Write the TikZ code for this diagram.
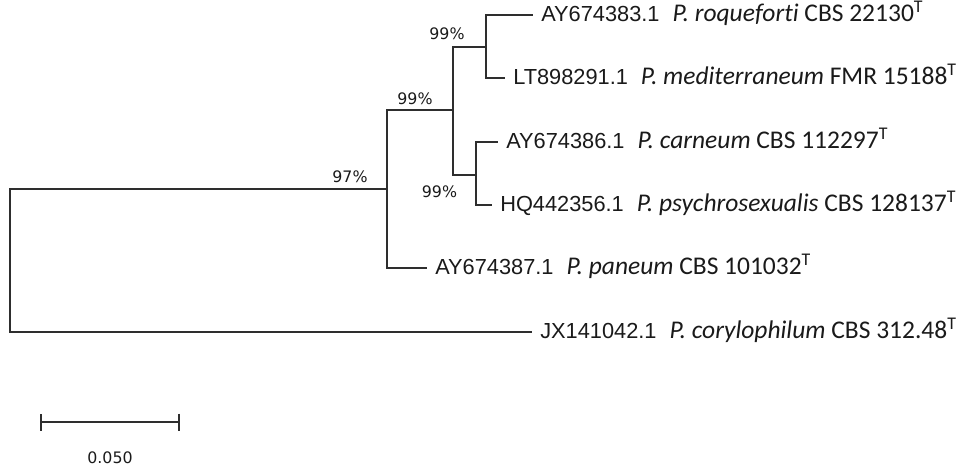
\documentclass[tikz,border=0pt]{standalone}
\usepackage{fontspec}
\usepackage{tikz}
\usetikzlibrary{arrows.meta}
\newfontfamily\accfont{Liberation Sans}
\newfontfamily\spfont[Ligatures={NoCommon,NoRare},Contextuals=NoAlternate]{Carlito}
\newfontfamily\bootfont{DejaVu Sans}
\definecolor{treeline}{HTML}{2E2E2E}
\definecolor{labeltext}{HTML}{1A1A1A}
\tikzset{
  branch/.style={draw=treeline, line width=0.9pt},
  leaflabel/.style={
    anchor=west,
    inner xsep=4.5pt,
    inner ysep=0pt,
    text height=0.72em,
    text depth=0pt,
    text=labeltext,
    font=\accfont\fontsize{12.4}{14}\selectfont
  },
  bootlabel/.style={inner sep=0pt, text=labeltext, font=\bootfont\fontsize{9}{10}\selectfont},
  scalebar/.style={branch, {Bar[width=3.4mm]}-{Bar[width=3.4mm]}}
}
\newcommand{\taxon}[3]{#1\hspace{2.6mm}{\spfont\fontsize{14.5}{16}\selectfont\textit{#2} #3\textsuperscript{T}}}

\begin{document}
\begin{tikzpicture}
\useasboundingbox (0,0) rectangle (19.38,9.44);

% internal nodes of the tree
\coordinate (root) at (0.20,4.24);
\coordinate (nA) at (7.74,5.66);
\coordinate (nB) at (9.06,7.24);
\coordinate (nC) at (9.72,8.50);
\coordinate (nD) at (9.52,5.94);

% leaves
\node[leaflabel] (roq) at (10.66,9.14) {\taxon{AY674383.1}{P. roqueforti}{CBS 22130}};
\node[leaflabel] (med) at (10.10,7.88) {\taxon{LT898291.1}{P. mediterraneum}{FMR 15188}};
\node[leaflabel] (car) at (9.96,6.60) {\taxon{AY674386.1}{P. carneum}{CBS 112297}};
\node[leaflabel] (psy) at (9.84,5.34) {\taxon{HQ442356.1}{P. psychrosexualis}{CBS 128137}};
\node[leaflabel] (pan) at (8.54,4.08) {\taxon{AY674387.1}{P. paneum}{CBS 101032}};
\node[leaflabel] (cor) at (10.64,2.80) {\taxon{JX141042.1}{P. corylophilum}{CBS 312.48}};

% branches
\draw[branch] (nC) |- (roq.west);
\draw[branch] (nC) |- (med.west);
\draw[branch] (nD) |- (car.west);
\draw[branch] (nD) |- (psy.west);
\draw[branch] (nB) |- (nC);
\draw[branch] (nB) |- (nD);
\draw[branch] (nA) |- (nB);
\draw[branch] (nA) |- (pan.west);
\draw[branch] (root) |- (nA);
\draw[branch] (root) |- (cor.west);

% bootstrap values
\node[bootlabel] (bC) at (8.94,8.76) {99\%};
\node[bootlabel] (bB) at (8.30,7.47) {99\%};
\node[bootlabel] (bD) at (8.79,5.60) {99\%};
\node[bootlabel] (bA) at (7.00,5.91) {97\%};

% scale bar
\coordinate (sbl) at (0.80,1.00);
\coordinate (sbr) at (3.60,1.00);
\draw[scalebar] (sbl) -- (sbr);
\node[bootlabel] (sblab) at (2.20,0.28) {0.050};
\end{tikzpicture}
\end{document}
